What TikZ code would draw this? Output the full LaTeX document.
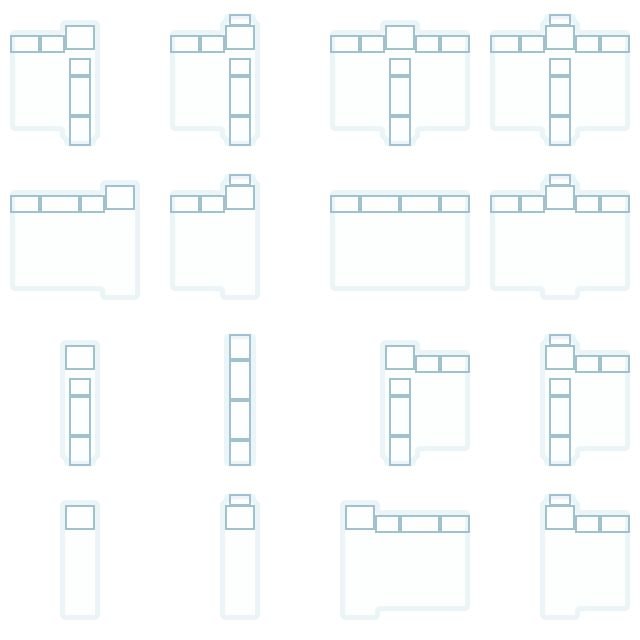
\documentclass[tikz,border=0pt]{standalone}
\definecolor{halo}{HTML}{EBF4F7}
\definecolor{wash}{HTML}{FDFEFE}
\definecolor{edgeblue}{HTML}{A0C2CE}
\tikzset{
  outline/.style={draw=halo,fill=wash,line width=5pt,rounded corners=2.5pt,line join=round},
  cellbox/.style={draw=edgeblue,line width=1.5pt,line join=miter},
  cellat/.style={shift={(#1)}}
}
\newcommand{\bxx}[4]{\draw[cellbox] (#1,#2) rectangle (#3,#4);}
\newcommand{\barA}{\bxx{11}{36}{39}{52}}
\newcommand{\barB}{\bxx{41}{36}{64}{52}}
\newcommand{\barC}{\bxx{96}{36}{119}{52}}
\newcommand{\barD}{\bxx{121}{36}{149}{52}}
\newcommand{\bigB}{\bxx{66}{26}{94}{49}}
\newcommand{\topB}{\bxx{70}{15}{90}{25}}
\newcommand{\colB}{\bxx{70}{59}{90}{75}\bxx{70}{77}{90}{115}\bxx{70}{117}{90}{145}}
\begin{document}
\begin{tikzpicture}[x=1pt,y=-1pt]
\useasboundingbox (0,0) rectangle (640,640);
\fill[white] (0,0) rectangle (640,640);
% row 1
\begin{scope}[cellat={0,0}]
\path[outline] (12.5,32.5) -- (62.5,32.5) -- (62.5,22.5) -- (97.5,22.5) -- (97.5,137.5) -- (93.5,137.5) -- (93.5,143.5) -- (66.5,143.5) -- (66.5,137.5) -- (62.5,137.5) -- (62.5,128.5) -- (12.5,128.5) -- cycle;
\barA\barB\bigB\colB
\end{scope}
\begin{scope}[cellat={160,0}]
\path[outline] (12.5,32.5) -- (62.5,32.5) -- (62.5,22.5) -- (66.5,22.5) -- (66.5,16.5) -- (93.5,16.5) -- (93.5,22.5) -- (97.5,22.5) -- (97.5,137.5) -- (93.5,137.5) -- (93.5,143.5) -- (66.5,143.5) -- (66.5,137.5) -- (62.5,137.5) -- (62.5,128.5) -- (12.5,128.5) -- cycle;
\barA\barB\topB\bigB\colB
\end{scope}
\begin{scope}[cellat={320,0}]
\path[outline] (12.5,32.5) -- (62.5,32.5) -- (62.5,22.5) -- (97.5,22.5) -- (97.5,32.5) -- (147.5,32.5) -- (147.5,128.5) -- (97.5,128.5) -- (97.5,137.5) -- (93.5,137.5) -- (93.5,143.5) -- (66.5,143.5) -- (66.5,137.5) -- (62.5,137.5) -- (62.5,128.5) -- (12.5,128.5) -- cycle;
\barA\barB\bigB\barC\barD\colB
\end{scope}
\begin{scope}[cellat={480,0}]
\path[outline] (12.5,32.5) -- (62.5,32.5) -- (62.5,22.5) -- (66.5,22.5) -- (66.5,16.5) -- (93.5,16.5) -- (93.5,22.5) -- (97.5,22.5) -- (97.5,32.5) -- (147.5,32.5) -- (147.5,128.5) -- (97.5,128.5) -- (97.5,137.5) -- (93.5,137.5) -- (93.5,143.5) -- (66.5,143.5) -- (66.5,137.5) -- (62.5,137.5) -- (62.5,128.5) -- (12.5,128.5) -- cycle;
\barA\barB\topB\bigB\barC\barD\colB
\end{scope}
% row 2
\begin{scope}[cellat={0,160}]
\path[outline] (12.5,32.5) -- (102.5,32.5) -- (102.5,22.5) -- (137.5,22.5) -- (137.5,137.5) -- (102.5,137.5) -- (102.5,128.5) -- (12.5,128.5) -- cycle;
\barA\bxx{41}{36}{79}{52}\bxx{81}{36}{104}{52}\bxx{106}{26}{134}{49}
\end{scope}
\begin{scope}[cellat={160,160}]
\path[outline] (12.5,32.5) -- (62.5,32.5) -- (62.5,22.5) -- (66.5,22.5) -- (66.5,16.5) -- (93.5,16.5) -- (93.5,22.5) -- (97.5,22.5) -- (97.5,137.5) -- (62.5,137.5) -- (62.5,128.5) -- (12.5,128.5) -- cycle;
\barA\barB\topB\bigB
\end{scope}
\begin{scope}[cellat={320,160}]
\path[outline] (12.5,32.5) -- (147.5,32.5) -- (147.5,128.5) -- (12.5,128.5) -- cycle;
\barA\bxx{41}{36}{79}{52}\bxx{81}{36}{119}{52}\barD
\end{scope}
\begin{scope}[cellat={480,160}]
\path[outline] (12.5,32.5) -- (62.5,32.5) -- (62.5,22.5) -- (66.5,22.5) -- (66.5,16.5) -- (93.5,16.5) -- (93.5,22.5) -- (97.5,22.5) -- (97.5,32.5) -- (147.5,32.5) -- (147.5,128.5) -- (97.5,128.5) -- (97.5,137.5) -- (62.5,137.5) -- (62.5,128.5) -- (12.5,128.5) -- cycle;
\barA\barB\topB\bigB\barC\barD
\end{scope}
% row 3
\begin{scope}[cellat={0,320}]
\path[outline] (62.5,22.5) -- (97.5,22.5) -- (97.5,137.5) -- (93.5,137.5) -- (93.5,143.5) -- (66.5,143.5) -- (66.5,137.5) -- (62.5,137.5) -- cycle;
\bigB\colB
\end{scope}
\begin{scope}[cellat={160,320}]
\path[outline] (66.5,16.5) -- (93.5,16.5) -- (93.5,143.5) -- (66.5,143.5) -- cycle;
\bxx{70}{15}{90}{39}\bxx{70}{41}{90}{79}\bxx{70}{81}{90}{119}\bxx{70}{121}{90}{145}
\end{scope}
\begin{scope}[cellat={320,320}]
\path[outline] (62.5,22.5) -- (97.5,22.5) -- (97.5,32.5) -- (147.5,32.5) -- (147.5,128.5) -- (97.5,128.5) -- (97.5,137.5) -- (93.5,137.5) -- (93.5,143.5) -- (66.5,143.5) -- (66.5,137.5) -- (62.5,137.5) -- cycle;
\bigB\barC\barD\colB
\end{scope}
\begin{scope}[cellat={480,320}]
\path[outline] (62.5,22.5) -- (66.5,22.5) -- (66.5,16.5) -- (93.5,16.5) -- (93.5,22.5) -- (97.5,22.5) -- (97.5,32.5) -- (147.5,32.5) -- (147.5,128.5) -- (97.5,128.5) -- (97.5,137.5) -- (93.5,137.5) -- (93.5,143.5) -- (66.5,143.5) -- (66.5,137.5) -- (62.5,137.5) -- cycle;
\topB\bigB\barC\barD\colB
\end{scope}
% row 4
\begin{scope}[cellat={0,480}]
\path[outline] (62.5,22.5) -- (97.5,22.5) -- (97.5,137.5) -- (62.5,137.5) -- cycle;
\bigB
\end{scope}
\begin{scope}[cellat={160,480}]
\path[outline] (62.5,22.5) -- (66.5,22.5) -- (66.5,16.5) -- (93.5,16.5) -- (93.5,22.5) -- (97.5,22.5) -- (97.5,137.5) -- (62.5,137.5) -- cycle;
\topB\bigB
\end{scope}
\begin{scope}[cellat={320,480}]
\path[outline] (22.5,22.5) -- (57.5,22.5) -- (57.5,32.5) -- (147.5,32.5) -- (147.5,128.5) -- (57.5,128.5) -- (57.5,137.5) -- (22.5,137.5) -- cycle;
\bxx{26}{26}{54}{49}\bxx{56}{36}{79}{52}\bxx{81}{36}{119}{52}\barD
\end{scope}
\begin{scope}[cellat={480,480}]
\path[outline] (62.5,22.5) -- (66.5,22.5) -- (66.5,16.5) -- (93.5,16.5) -- (93.5,22.5) -- (97.5,22.5) -- (97.5,32.5) -- (147.5,32.5) -- (147.5,128.5) -- (97.5,128.5) -- (97.5,137.5) -- (62.5,137.5) -- cycle;
\topB\bigB\barC\barD
\end{scope}
\end{tikzpicture}
\end{document}
